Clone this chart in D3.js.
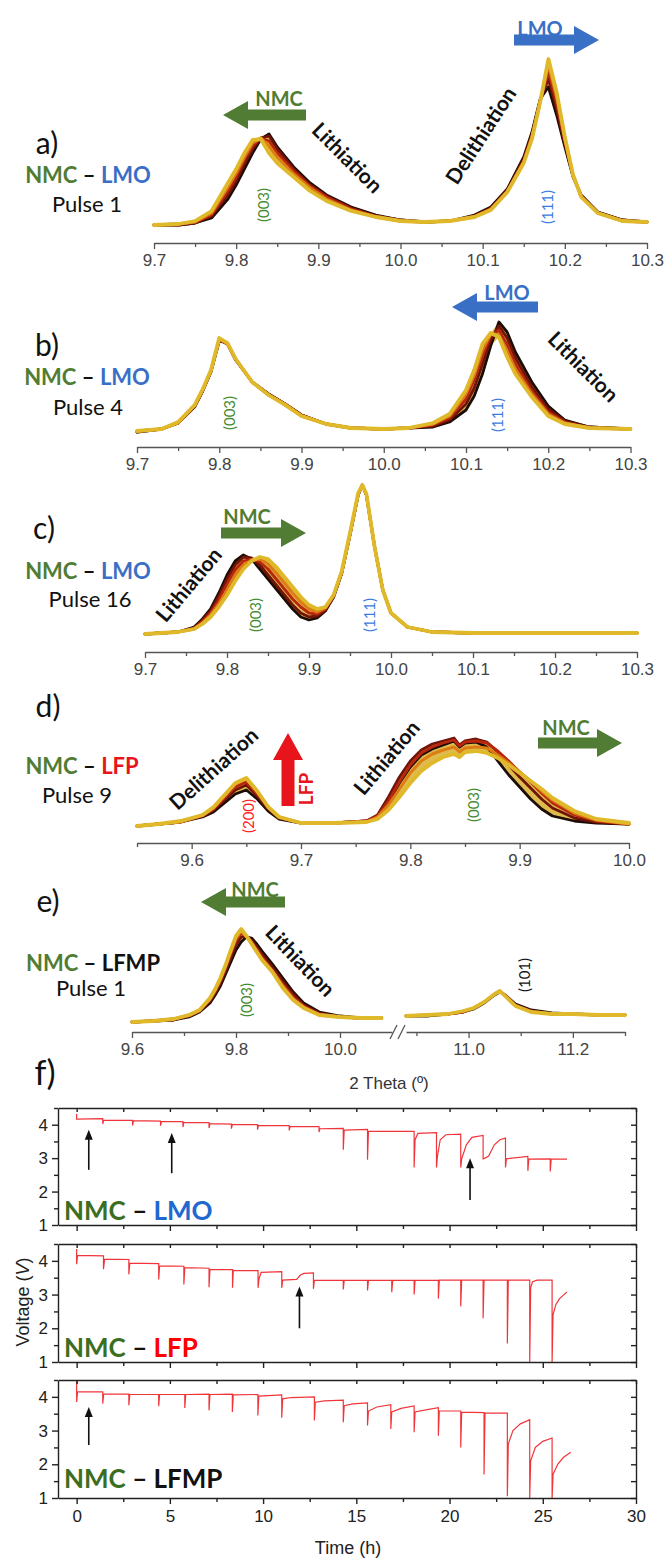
<!DOCTYPE html>
<html><head><meta charset="utf-8">
<script src="https://cdn.jsdelivr.net/npm/d3@7"></script>
<style>body{margin:0;background:#fff}svg{display:block}</style>
</head><body>
<svg id="chart" width="665" height="1559"></svg>
<script>
// ---------------- DATA ----------------
// Panel a) NMC-LMO pulse 1 : 2theta grid and 5 successive scans (intensity a.u.)
const aTheta = [9.70,9.73,9.75,9.77,9.79,9.80,9.81,9.82,9.83,9.84,9.85,9.87,9.89,9.91,9.94,9.97,10.00,10.03,10.06,10.09,10.11,10.13,10.15,10.16,10.17,10.18,10.19,10.20,10.21,10.22,10.24,10.27,10.30];
const aScan1 = [2,2,4,9,28,42,58,74,88,93,80,60,44,32,20,12,7,5,6,12,20,38,70,95,128,140,112,80,50,32,15,7,5];
const aScan2 = [2,2,4,11,32,46,63,78,89,91,78,58,42,31,19,11,7,5,6,11,19,37,68,93,127,148,118,83,51,31,15,7,5];
const aScan3 = [2,3,5,12,36,50,67,81,89,86,74,56,41,30,18,11,6,5,6,11,18,36,66,91,126,155,124,86,51,31,14,6,5];
const aScan4 = [2,3,5,14,40,54,70,84,89,81,70,53,39,28,17,10,6,5,6,10,18,35,65,90,125,162,130,88,52,30,14,6,5];
const aScan5 = [2,3,6,16,44,58,74,87,88,74,64,50,36,26,16,10,6,5,6,10,17,35,64,88,125,168,135,90,52,30,14,6,5];

// Panel b) NMC-LMO pulse 4
const bTheta = [9.70,9.73,9.75,9.77,9.78,9.79,9.80,9.81,9.82,9.84,9.86,9.88,9.90,9.93,9.96,10.00,10.03,10.06,10.08,10.10,10.11,10.12,10.13,10.14,10.15,10.16,10.18,10.20,10.22,10.25,10.30];
const bScan1 = [0,3,9,25,41,60,91,89,72,50,38,28,17,8,4,3,4,5,10,22,36,58,86,110,100,80,50,26,12,5,3];
const bScan2 = [0,3,9,26,42,61,92,88,72,50,38,28,17,8,4,3,4,6,12,28,44,68,92,106,94,74,45,23,11,5,3];
const bScan3 = [1,3,9,26,42,61,92,88,73,50,37,28,17,8,4,3,4,7,14,33,52,76,96,102,87,68,41,20,10,4,3];
const bScan4 = [1,3,9,26,42,62,93,88,73,50,37,28,16,8,4,3,4,8,16,38,57,82,98,97,81,63,38,18,9,4,3];
const bScan5 = [1,3,10,27,43,62,94,89,73,50,37,27,16,8,4,3,4,9,18,42,62,88,99,95,75,58,35,16,8,4,3];

// Panel c) NMC-LMO pulse 16
const cTheta = [9.70,9.74,9.76,9.77,9.78,9.79,9.80,9.81,9.82,9.83,9.84,9.85,9.86,9.87,9.88,9.89,9.90,9.91,9.92,9.93,9.94,9.95,9.96,9.965,9.97,9.98,9.99,10.00,10.02,10.05,10.10,10.20,10.30];
const cScan1 = [1,3,8,16,26,42,60,74,80,76,66,56,46,36,26,18,15,17,24,38,62,100,140,150,140,88,45,22,8,3,2,2,2];
const cScan2 = [1,3,7,15,24,39,56,70,78,77,70,60,50,40,30,22,18,19,25,38,62,100,140,150,140,88,45,22,8,3,2,2,2];
const cScan3 = [1,3,7,13,22,35,51,65,74,76,73,66,56,46,36,28,22,21,26,39,63,101,141,150,140,88,45,22,8,3,2,2,2];
const cScan4 = [1,3,6,12,20,31,45,60,70,75,76,71,62,52,42,33,26,23,27,40,63,101,141,150,141,88,45,22,8,3,2,2,2];
const cScan5 = [1,3,6,11,18,28,40,54,66,74,78,76,68,58,48,38,30,26,28,40,64,102,142,150,141,88,45,22,8,3,2,2,2];

// Panel d) NMC-LFP pulse 9
const dTheta = [9.55,9.57,9.59,9.61,9.62,9.63,9.64,9.65,9.66,9.67,9.68,9.70,9.73,9.76,9.77,9.78,9.79,9.80,9.81,9.82,9.83,9.84,9.845,9.85,9.86,9.87,9.88,9.89,9.90,9.91,9.92,9.93,9.95,9.97,10.00];
const dScan1 = [1,3,5,10,15,24,33,37,28,16,8,4,4,6,10,24,44,60,72,78,82,86,80,84,85,80,66,52,40,28,18,11,6,4,3];
const dScan2 = [1,3,5,11,17,27,37,42,31,18,9,4,4,6,12,30,50,66,77,83,86,89,82,86,88,85,75,62,50,39,28,19,9,5,3];
const dScan3 = [1,3,5,11,18,29,40,45,33,19,9,4,4,6,11,26,45,62,74,80,84,87,81,85,86,84,76,66,55,45,34,24,12,6,3];
const dScan4 = [1,3,5,12,19,31,43,48,35,20,10,4,4,5,10,22,38,54,66,73,77,80,75,79,80,79,72,64,55,46,36,27,14,7,3];
const dScan5 = [1,3,6,12,20,32,44,49,36,20,10,4,4,5,8,17,30,44,56,64,70,73,70,75,76,74,69,62,54,46,38,29,16,8,4];

// Panel e) NMC-LFMP pulse 1 (broken axis)
const eTheta = [9.60,9.64,9.68,9.71,9.73,9.75,9.76,9.77,9.78,9.79,9.80,9.81,9.82,9.83,9.84,9.85,9.87,9.89,9.91,9.93,9.96,10.00,10.04,10.08];
const eScan1 = [0,1,2,5,10,19,27,36,48,60,72,80,85,84,78,71,58,44,30,19,10,6,4,4];
const eScan2 = [0,1,2,6,11,21,29,39,51,64,77,85,86,82,75,68,55,41,28,17,9,5,4,4];
const eScan3 = [0,1,3,6,11,22,31,41,54,68,81,89,86,80,73,65,52,38,25,16,8,5,4,4];
const eScan4 = [0,1,3,7,12,23,32,43,56,70,84,91,86,79,71,63,51,36,23,15,7,5,4,4];
const eScan5 = [0,1,3,7,12,24,33,44,57,72,86,93,86,78,70,62,50,34,22,14,7,5,4,4];
const eTheta2 = [10.88,10.92,10.96,10.99,11.01,11.03,11.05,11.06,11.07,11.09,11.12,11.16,11.20,11.25,11.30];
const eScanR1 = [6,6,8,10,13,19,27,30,27,18,12,9,8,7,7];
const eScanR3 = [6,7,8,10,14,20,28,31,27,17,11,8,8,7,7];
const eScanR5 = [6,7,8,11,14,20,28,31,26,16,10,8,8,7,7];

// Tick values
const ticksMajor = [9.7,9.8,9.9,10.0,10.1,10.2,10.3];
const ticksMinor = [9.75,9.85,9.95,10.05,10.15,10.25];
const dTicksMajor = [9.6,9.7,9.8,9.9,10.0];
const dTicksMinor = [9.55,9.65,9.75,9.85,9.95];
const eTicksLeftMajor = [9.6,9.8,10.0];
const eTicksLeftMinor = [9.7,9.9];
const eTicksRightMajor = [11.0,11.2];
const eTicksRightMinor = [10.9,11.1,11.3];

// Panel f) voltage profiles [time (h), voltage (V)]
const vLMO = [[0,4.32],[0,4.17],[1.4,4.18],[1.4,4.02],[1.45,4.14],[3.0,4.13],[3.0,3.98],[3.05,4.12],[4.5,4.11],[4.5,3.97],[4.55,4.1],[5.7,4.09],[5.7,3.93],[5.75,4.07],[7.1,4.06],[7.1,3.9],[7.15,4.03],[8.3,4.02],[8.3,3.88],[8.35,4.0],[9.7,4.0],[9.7,3.85],[9.75,3.98],[11.4,3.97],[11.4,3.83],[11.45,3.94],[13.0,3.94],[13.0,3.78],[13.05,3.88],[14.3,3.89],[14.3,3.25],[14.35,3.84],[15.6,3.86],[15.6,2.95],[15.65,3.8],[18.1,3.8],[18.1,2.72],[18.15,3.55],[18.3,3.74],[19.3,3.76],[19.3,2.72],[19.35,3.05],[19.5,3.55],[19.8,3.7],[20.6,3.72],[20.6,2.72],[20.65,2.98],[20.9,3.4],[21.2,3.62],[21.8,3.68],[21.8,2.98],[21.9,3.0],[22.1,3.06],[22.4,3.4],[22.7,3.55],[23.0,3.6],[23.0,2.72],[23.05,2.98],[24.2,3.05],[24.2,2.62],[24.25,2.97],[25.4,2.98],[25.4,2.6],[25.45,2.97],[26.3,2.97]];
const vLFP = [[0,4.35],[0,3.9],[0.05,4.16],[1.44,4.15],[1.44,3.75],[1.5,4.05],[2.8,4.04],[2.8,3.6],[2.85,3.93],[4.4,3.92],[4.4,3.45],[4.45,3.85],[5.75,3.84],[5.75,3.3],[5.8,3.8],[7.1,3.78],[7.1,3.22],[7.15,3.75],[8.36,3.74],[8.36,3.2],[8.4,3.72],[9.73,3.71],[9.73,3.2],[9.78,3.47],[9.9,3.66],[11.0,3.68],[11.0,3.2],[11.05,3.43],[11.8,3.45],[12.0,3.58],[12.2,3.63],[12.7,3.64],[12.7,3.17],[12.75,3.42],[14.3,3.42],[14.3,3.15],[14.35,3.42],[15.6,3.42],[15.6,3.12],[15.65,3.42],[16.9,3.42],[16.9,3.07],[16.95,3.42],[18.1,3.42],[18.1,3.0],[18.15,3.42],[19.4,3.43],[19.4,2.88],[19.45,3.43],[20.6,3.43],[20.6,2.65],[20.65,3.43],[21.8,3.43],[21.8,2.3],[21.85,3.43],[23.1,3.43],[23.1,1.55],[23.15,3.43],[24.3,3.43],[24.3,1.0],[24.35,3.2],[24.45,3.38],[24.7,3.43],[25.5,3.43],[25.5,1.0],[25.55,2.4],[25.7,2.7],[25.9,2.88],[26.3,3.08]];
const vLFMP = [[0,4.5],[0,3.85],[0.05,4.15],[1.4,4.15],[1.4,3.8],[1.45,4.08],[2.8,4.08],[2.8,3.75],[2.85,4.07],[4.4,4.07],[4.4,3.72],[4.45,4.07],[5.8,4.07],[5.8,3.67],[5.85,4.07],[7.1,4.08],[7.1,3.6],[7.15,4.07],[8.35,4.08],[8.35,3.55],[8.4,4.06],[9.72,4.07],[9.72,3.45],[9.77,4.02],[11.0,4.06],[11.0,3.38],[11.05,3.94],[11.5,3.98],[12.75,4.0],[12.75,3.3],[12.8,3.84],[13.3,3.88],[14.3,3.9],[14.3,3.25],[14.35,3.74],[14.8,3.79],[15.6,3.82],[15.6,3.15],[15.65,3.58],[16.1,3.7],[16.85,3.77],[16.85,3.05],[16.9,3.55],[17.4,3.66],[18.1,3.73],[18.1,2.95],[18.15,3.55],[18.8,3.62],[19.4,3.68],[19.4,2.85],[19.45,3.58],[20.6,3.58],[20.6,2.5],[20.65,3.55],[21.85,3.53],[21.85,1.7],[21.9,3.52],[23.1,3.52],[23.1,1.05],[23.15,2.6],[23.4,3.0],[23.8,3.2],[24.3,3.32],[24.3,1.0],[24.35,2.1],[24.6,2.5],[25.0,2.68],[25.5,2.78],[25.5,1.0],[25.55,1.7],[25.8,2.0],[26.1,2.2],[26.5,2.36]];
// arrows marking the scans: [time, tail V, tip V]
const arrowsLMO = [[0.65,2.65,3.85],[5.1,2.55,3.75],[21.1,1.75,3.0]];
const arrowsLFP = [[11.95,2.0,3.24]];
const arrowsLFMP = [[0.65,2.57,3.7]];
const timeTicks = [0,5,10,15,20,25,30];
const timeMinor = [2.5,7.5,12.5,17.5,22.5,27.5];
const voltTicks = [1,2,3,4];
const voltMinor = [1.5,2.5,3.5,4.5];

// ---------------- STYLE ----------------
const scanColors = ["#1c0c06","#6e1408","#b8260e","#dc7c12","#dfb92a"];
const scanWidths = [2.8,2.8,2.8,3.0,3.8];
const bandColor = "#d9ae2e";
const GREEN = "#517c33", BLUE = "#3a6fc6", RED = "#e8141c";
const FONT = "Lato, 'Open Sans', sans-serif";
const AXFONT = "'Liberation Sans', Arial, sans-serif";

const svg = d3.select("#chart");

function text(x, y, str, o = {}) {
  const t = svg.append("text").attr("x", x).attr("y", y)
    .attr("font-family", o.family || FONT).attr("font-size", o.size || 20)
    .attr("font-weight", o.weight || 400).attr("fill", o.color || "#111")
    .attr("text-anchor", o.anchor || "middle").attr("dominant-baseline", "central");
  if (o.rotate) t.attr("transform", `rotate(${o.rotate},${x},${y})`);
  t.text(str);
  return t;
}
function pairLabel(x, y, parts, size, anchor) {
  const t = svg.append("text").attr("x", x).attr("y", y).attr("font-family", FONT)
    .attr("font-size", size).attr("font-weight", 700).attr("text-anchor", anchor || "middle")
    .attr("dominant-baseline", "central");
  parts.forEach(p => t.append("tspan").attr("fill", p[1]).text(p[0]));
}
function blockArrow(x1, y1, x2, y2, color, shaftW = 11, headW = 28, headL = 25) {
  const L = Math.hypot(x2 - x1, y2 - y1), ang = Math.atan2(y2 - y1, x2 - x1) * 180 / Math.PI;
  const pts = [[0,-shaftW/2],[L-headL,-shaftW/2],[L-headL,-headW/2],[L,0],[L-headL,headW/2],[L-headL,shaftW/2],[0,shaftW/2]];
  svg.append("polygon").attr("points", pts.map(p => p.join(",")).join(" "))
    .attr("fill", color).attr("transform", `translate(${x1},${y1}) rotate(${ang})`);
}
function drawScans(x, y, theta, scans, colors, widths, band = true) {
  const g = svg.append("g");
  if (band) {
    const area = d3.area().x((d, j) => x(theta[j]))
      .y0((d, j) => y(d3.min(scans, s => s[j]))).y1((d, j) => y(d3.max(scans, s => s[j])));
    g.append("path").attr("d", area(theta)).attr("fill", bandColor).attr("opacity", 0.85);
  }
  scans.forEach((s, i) => {
    const line = d3.line().x((d, j) => x(theta[j])).y(d => y(d)).curve(d3.curveLinear);
    g.append("path").attr("d", line(s)).attr("fill", "none")
      .attr("stroke", colors[i]).attr("stroke-width", widths[i])
      .attr("stroke-linejoin", "round").attr("stroke-linecap", "round");
  });
}
function xrdAxis(x, yPos, major, minor, showLabels = true) {
  const gMaj = svg.append("g").attr("transform", `translate(0,${yPos})`)
    .call(d3.axisBottom(x).tickValues(major).tickSize(6).tickSizeOuter(0).tickPadding(5)
      .tickFormat(showLabels ? d3.format(".1f") : ""));
  const gMin = svg.append("g").attr("transform", `translate(0,${yPos})`)
    .call(d3.axisBottom(x).tickValues(minor).tickSize(4).tickFormat(""));
  gMin.select(".domain").remove();
  [gMaj, gMin].forEach(g => {
    g.selectAll("path,line").attr("stroke", "#555").attr("stroke-width", 1.3);
    g.selectAll("text").attr("font-family", AXFONT).attr("font-size", 17).attr("fill", "#444");
  });
  return gMaj;
}
function yInt(base) { return d3.scaleLinear().domain([0, 200]).range([base, base - 200]); }
const allScans = (a, b, c, d, e) => [a, b, c, d, e];

// ---------------- PANEL a ----------------
{
  const x = d3.scaleLinear().domain([9.7, 10.3]).range([154, 647]);
  const y = yInt(227);
  drawScans(x, y, aTheta, allScans(aScan1, aScan2, aScan3, aScan4, aScan5), scanColors, scanWidths);
  xrdAxis(x, 243, ticksMajor, ticksMinor);
  blockArrow(306, 115, 223, 115, GREEN);
  text(279, 98, "NMC", { size: 20, weight: 700, color: GREEN });
  blockArrow(514, 40, 599, 40, BLUE);
  text(540, 28, "LMO", { size: 20, weight: 700, color: BLUE });
  text(348, 157, "Lithiation", { size: 21, weight: 700, rotate: 45 });
  text(480, 135, "Delithiation", { size: 21, weight: 700, rotate: -57 });
  text(263, 205, "(003)", { size: 15, color: "#3f8a2a", rotate: -90 });
  text(547, 207, "(111)", { size: 15, color: "#3a7be0", rotate: -90 });
  text(47, 142, "a)", { size: 30 });
  pairLabel(88, 174, [["NMC", GREEN], [" – ", "#111"], ["LMO", BLUE]], 22);
  text(87, 203, "Pulse 1", { size: 22 });
}
// ---------------- PANEL b ----------------
{
  const x = d3.scaleLinear().domain([9.7, 10.3]).range([137, 630.5]);
  const y = yInt(432);
  drawScans(x, y, bTheta, allScans(bScan1, bScan2, bScan3, bScan4, bScan5), scanColors, scanWidths);
  xrdAxis(x, 447, ticksMajor, ticksMinor);
  blockArrow(538, 307, 452, 307, BLUE);
  text(507, 292, "LMO", { size: 20, weight: 700, color: BLUE });
  text(584, 366, "Lithiation", { size: 21, weight: 700, rotate: 45 });
  text(229, 413, "(003)", { size: 15, color: "#3f8a2a", rotate: -90 });
  text(497, 415, "(111)", { size: 15, color: "#3a7be0", rotate: -90 });
  text(47, 344, "b)", { size: 30 });
  pairLabel(87, 376, [["NMC", GREEN], [" – ", "#111"], ["LMO", BLUE]], 22);
  text(88, 406, "Pulse 4", { size: 22 });
}
// ---------------- PANEL c ----------------
{
  const x = d3.scaleLinear().domain([9.7, 10.3]).range([145, 637]);
  const y = yInt(635);
  drawScans(x, y, cTheta, allScans(cScan1, cScan2, cScan3, cScan4, cScan5), scanColors, scanWidths);
  xrdAxis(x, 652, ticksMajor, ticksMinor);
  blockArrow(221, 533, 306, 533, GREEN);
  text(247, 516, "NMC", { size: 20, weight: 700, color: GREEN });
  text(188, 584, "Lithiation", { size: 21, weight: 700, rotate: -50 });
  text(255, 615, "(003)", { size: 15, color: "#3f8a2a", rotate: -90 });
  text(369, 615, "(111)", { size: 15, color: "#3a7be0", rotate: -90 });
  text(44, 527, "c)", { size: 30 });
  pairLabel(88, 570, [["NMC", GREEN], [" – ", "#111"], ["LMO", BLUE]], 22);
  text(90, 598, "Pulse 16", { size: 22 });
}
// ---------------- PANEL d ----------------
{
  const x = d3.scaleLinear().domain([9.55, 10.0]).range([137, 629]);
  const y = yInt(827);
  drawScans(x, y, dTheta, allScans(dScan1, dScan2, dScan3, dScan4, dScan5), scanColors, scanWidths);
  xrdAxis(x, 843, dTicksMajor, dTicksMinor);
  blockArrow(288, 806, 288, 733, RED, 13, 30, 27);
  text(305, 789, "LFP", { size: 19, weight: 700, color: RED, rotate: -90 });
  blockArrow(538, 743, 622, 743, GREEN);
  text(566, 727, "NMC", { size: 20, weight: 700, color: GREEN });
  text(213, 768, "Delithiation", { size: 21, weight: 700, rotate: -42 });
  text(386, 757, "Lithiation", { size: 21, weight: 700, rotate: -50 });
  text(248, 816, "(200)", { size: 15, color: "#ff1a1a", rotate: -90 });
  text(473, 805, "(003)", { size: 15, color: "#3f8a2a", rotate: -90 });
  text(48, 705, "d)", { size: 30 });
  pairLabel(82, 765, [["NMC", GREEN], [" – ", "#111"], ["LFP", RED]], 22);
  text(77, 794, "Pulse 9", { size: 22 });
}
// ---------------- PANEL e ----------------
{
  const xL = d3.scaleLinear().domain([9.6, 10.1]).range([132, 392]);
  const xR = d3.scaleLinear().domain([10.88, 11.3]).range([406, 625]);
  const y = yInt(1022);
  drawScans(xL, y, eTheta, allScans(eScan1, eScan2, eScan3, eScan4, eScan5), scanColors, scanWidths);
  drawScans(xR, y, eTheta2, [eScanR1, eScanR3, eScanR5], [scanColors[0], scanColors[2], scanColors[4]], [2.8, 2.8, 3.8], false);
  xrdAxis(xL, 1032, eTicksLeftMajor, eTicksLeftMinor);
  xrdAxis(xR, 1032, eTicksRightMajor, eTicksRightMinor);
  // axis break marks
  [[390, 397], [398, 405]].forEach(p => svg.append("line").attr("x1", p[0]).attr("y1", 1039).attr("x2", p[1]).attr("y2", 1025)
    .attr("stroke", "#555").attr("stroke-width", 1.3));
  blockArrow(285, 902, 201, 902, GREEN);
  text(255, 889, "NMC", { size: 20, weight: 700, color: GREEN });
  text(301, 960, "Lithiation", { size: 21, weight: 700, rotate: 46 });
  text(246, 1000, "(003)", { size: 15, color: "#3f8a2a", rotate: -90 });
  text(524, 975, "(101)", { size: 15, color: "#111", rotate: -90 });
  text(48, 900, "e)", { size: 30 });
  pairLabel(93, 962, [["NMC", GREEN], [" – ", "#111"], ["LFMP", "#111"]], 22);
  text(91, 987, "Pulse 1", { size: 22 });
  text(389, 1083, "2 Theta (º)", { size: 17, family: AXFONT, color: "#333" });
}
// ---------------- PANEL f ----------------
{
  text(45, 1071, "f)", { size: 34 });
  const fx = d3.scaleLinear().domain([-1, 30]).range([58, 636]);
  const boxes = [
    { top: 1108, bottom: 1225, data: vLMO, arrows: arrowsLMO, label: [["NMC", "#3b6e1f"], [" – ", "#111"], ["LMO", "#2068cf"]], ly: 1210 },
    { top: 1244, bottom: 1362, data: vLFP, arrows: arrowsLFP, label: [["NMC", "#3b6e1f"], [" – ", "#111"], ["LFP", "#ff0000"]], ly: 1347 },
    { top: 1380, bottom: 1498, data: vLFMP, arrows: arrowsLFMP, label: [["NMC", "#3b6e1f"], [" – ", "#111"], ["LFMP", "#111"]], ly: 1478 }
  ];
  boxes.forEach((b, k) => {
    const fy = d3.scaleLinear().domain([1, 4.5]).range([b.bottom, b.top]);
    const id = "clip" + k;
    svg.append("clipPath").attr("id", id).append("rect").attr("x", 58).attr("y", b.top).attr("width", 578).attr("height", b.bottom - b.top);
    const line = d3.line().x(d => fx(d[0])).y(d => fy(d[1]));
    svg.append("path").attr("d", line(b.data)).attr("fill", "none").attr("stroke", "#f0353a")
      .attr("stroke-width", 1.2).attr("clip-path", `url(#${id})`);
    const last = k === 2;
    const axes = [
      svg.append("g").attr("transform", `translate(0,${b.bottom})`).call(d3.axisBottom(fx).tickValues(timeTicks).tickSize(6).tickSizeOuter(0).tickPadding(6).tickFormat(last ? d3.format("d") : "")),
      svg.append("g").attr("transform", `translate(0,${b.bottom})`).call(d3.axisBottom(fx).tickValues(timeMinor).tickSize(4).tickFormat("")),
      svg.append("g").attr("transform", `translate(0,${b.top})`).call(d3.axisBottom(fx).tickValues(timeTicks.concat(timeMinor)).tickSize(4).tickSizeOuter(0).tickFormat("")),
      svg.append("g").attr("transform", `translate(58,0)`).call(d3.axisLeft(fy).tickValues(voltTicks).tickSize(6).tickSizeOuter(0).tickPadding(4).tickFormat(d3.format("d"))),
      svg.append("g").attr("transform", `translate(58,0)`).call(d3.axisLeft(fy).tickValues(voltMinor).tickSize(4).tickFormat("")),
      svg.append("g").attr("transform", `translate(636,0)`).call(d3.axisLeft(fy).tickValues(voltTicks.concat(voltMinor)).tickSize(5).tickSizeOuter(0).tickFormat(""))
    ];
    axes.forEach((g, i) => {
      if (i === 1 || i === 4) g.select(".domain").remove();
      g.selectAll("path,line").attr("stroke", "#222").attr("stroke-width", 1.4);
      g.selectAll("text").attr("font-family", AXFONT).attr("font-size", 17).attr("fill", "#222");
    });
    b.arrows.forEach(a => {
      const ax = fx(a[0]), y1 = fy(a[1]), y2 = fy(a[2]);
      svg.append("line").attr("x1", ax).attr("x2", ax).attr("y1", y1).attr("y2", y2 + 8).attr("stroke", "#111").attr("stroke-width", 1.6);
      svg.append("polygon").attr("points", `${ax},${y2} ${ax - 4},${y2 + 10} ${ax + 4},${y2 + 10}`).attr("fill", "#111");
    });
    pairLabel(64, b.ly, b.label, 26, "start");
  });
  const vt = svg.append("text").attr("transform", "translate(23,1302) rotate(-90)").attr("text-anchor", "middle")
    .attr("dominant-baseline", "central").attr("font-family", AXFONT).attr("font-size", 18).attr("fill", "#222");
  vt.append("tspan").text("Voltage (");
  vt.append("tspan").attr("font-style", "italic").text("V");
  vt.append("tspan").text(")");
  text(348, 1548, "Time (h)", { size: 18, family: AXFONT, color: "#222" });
}
</script>
</body></html>
